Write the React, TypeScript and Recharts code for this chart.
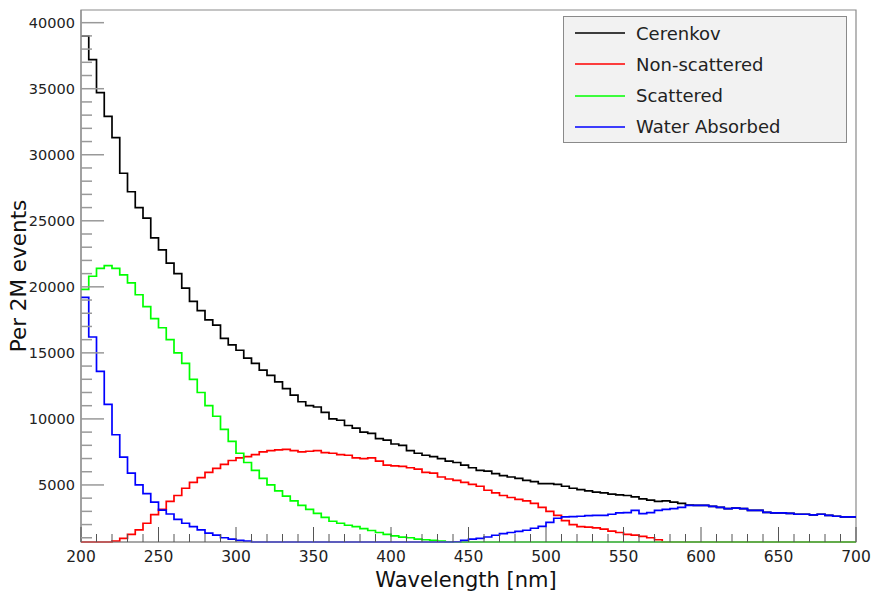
import React from 'react';
import { LineChart, Line, XAxis, YAxis, ReferenceArea, Legend, Label } from 'recharts';

// histogram bins: lower edge of the first bin and bin width [nm]
const BIN_START = 200;
const BIN_WIDTH = 5;

const CERENKOV = [
  39000, 37200, 34700, 32900, 31300, 28600, 27200, 26000, 25200, 23700,
  22800, 21800, 21000, 19900, 18900, 18200, 17500, 17100, 16100, 15600,
  15200, 14600, 14200, 13700, 13300, 12800, 12300, 11800, 11300, 11000,
  10900, 10500, 10000, 9900, 9500, 9300, 9000, 8900, 8500, 8400,
  8100, 8000, 7600, 7400, 7250, 7150, 7000, 6800, 6700, 6500,
  6300, 6100, 6050, 5850, 5700, 5600, 5500, 5350, 5250, 5100,
  5100, 5050, 4900, 4750, 4650, 4550, 4450, 4400, 4300, 4250,
  4200, 4100, 3950, 3850, 3750, 3800, 3700, 3600, 3480, 3450,
  3460, 3380, 3300, 3210, 3250, 3200, 3080, 3080, 2930, 2880,
  2880, 2850, 2780, 2780, 2740, 2780, 2700, 2630, 2580, 2580,
];

const NON_SCATTERED = [
  0, 0, 0, 0, 750, 950, 1250, 1600, 2100, 2750,
  3150, 3750, 4200, 4750, 5200, 5550, 5950, 6250, 6550, 6850,
  7050, 7150, 7300, 7500, 7600, 7650, 7700, 7600, 7500, 7550,
  7600, 7450, 7400, 7300, 7250, 7050, 7000, 7050, 6800, 6500,
  6450, 6400, 6300, 6200, 5950, 5900, 5600, 5450, 5350, 5200,
  5050, 4900, 4600, 4400, 4200, 4050, 3900, 3800, 3600, 3300,
  3000, 2700, 2300, 2000, 1850, 1800, 1750, 1650, 1500, 1400,
  1250, 1200, 1100, 1000, 850, 0, 0, 0, 0, 0,
  0, 0, 0, 0, 0, 0, 0, 0, 0, 0,
  0, 0, 0, 0, 0, 0, 0, 0, 0, 0,
];

const SCATTERED = [
  19800, 20800, 21400, 21600, 21400, 20900, 20300, 19400, 18500, 17600,
  16900, 16000, 15000, 14200, 13000, 12000, 11000, 10200, 9200, 8300,
  7400, 6700, 6100, 5500, 5000, 4550, 4150, 3800, 3450, 3150,
  2850, 2550, 2250, 2100, 1950, 1850, 1700, 1550, 1400, 1250,
  1150, 1050, 1000, 900, 850, 800, 750, 700, 0, 0,
  0, 0, 0, 0, 0, 0, 0, 0, 0, 0,
  0, 0, 0, 0, 0, 0, 0, 0, 0, 0,
  0, 0, 0, 0, 0, 0, 0, 0, 0, 0,
  0, 0, 0, 0, 0, 0, 0, 0, 0, 0,
  0, 0, 0, 0, 0, 0, 0, 0, 0, 0,
];

const WATER_ABSORBED = [
  19200, 16200, 13600, 11100, 8800, 7100, 5900, 5000, 4350, 3700,
  3100, 2800, 2400, 2100, 1850, 1600, 1350, 1200, 1000, 900,
  800, 750, 0, 0, 0, 0, 0, 0, 0, 0,
  0, 0, 0, 0, 0, 0, 0, 0, 0, 0,
  0, 0, 0, 0, 0, 0, 0, 0, 700, 800,
  900, 950, 1060, 1190, 1320, 1400, 1490, 1570, 1720, 1870,
  2170, 2480, 2580, 2600, 2630, 2670, 2700, 2700, 2780, 2880,
  2900, 3080, 2830, 2900, 3080, 3150, 3210, 3300, 3460, 3460,
  3460, 3380, 3300, 3210, 3250, 3200, 3080, 3080, 2930, 2880,
  2880, 2850, 2780, 2780, 2740, 2780, 2700, 2630, 2580, 2580,
];

const X_MAJOR = [200, 250, 300, 350, 400, 450, 500, 550, 600, 650, 700];
const Y_MAJOR = [5000, 10000, 15000, 20000, 25000, 30000, 35000, 40000];
const X_MINOR_STEP = 10;
const Y_MINOR_STEP = 1000;

const X_MIN = 200;
const X_MAX = 700;
const Y_MIN = 680;
const Y_MAX = 40960;

const FONT = "'DejaVu Sans', sans-serif";

const SERIES = [
  { key: 'cerenkov', name: 'Cerenkov', color: '#000000', values: CERENKOV },
  { key: 'nonScattered', name: 'Non-scattered', color: '#ff0000', values: NON_SCATTERED },
  { key: 'scattered', name: 'Scattered', color: '#00ff00', values: SCATTERED },
  { key: 'waterAbsorbed', name: 'Water Absorbed', color: '#0000ff', values: WATER_ABSORBED },
];

// ROOT draws empty / underflow bins on the frame bottom
const clampY = (v: number) => Math.max(v, Y_MIN);

const data = CERENKOV.map((_, i) => {
  const row: Record<string, number> = { wl: BIN_START + i * BIN_WIDTH };
  SERIES.forEach(s => { row[s.key] = clampY(s.values[i]); });
  return row;
});
// closing edge of the last bin
const lastRow: Record<string, number> = { wl: BIN_START + CERENKOV.length * BIN_WIDTH };
SERIES.forEach(s => { lastRow[s.key] = clampY(s.values[s.values.length - 1]); });
data.push(lastRow);

const xTicks: number[] = [];
for (let v = X_MIN; v <= X_MAX; v += X_MINOR_STEP) xTicks.push(v);
const yTicks: number[] = [];
for (let v = Y_MINOR_STEP; v <= Y_MAX; v += Y_MINOR_STEP) yTicks.push(v);

const XTick = (props: any) => {
  const { x, y, payload } = props;
  const major = X_MAJOR.includes(payload.value);
  return (
    <g>
      <line x1={x} x2={x} y1={y} y2={y - (major ? 15 : 8)} stroke="#555" strokeWidth={1} />
      {major && (
        <text x={x} y={y + 20} textAnchor="middle" fontSize={15.5} fontFamily={FONT} fill="#222">
          {payload.value}
        </text>
      )}
    </g>
  );
};

const YTick = (props: any) => {
  const { x, y, payload } = props;
  const major = Y_MAJOR.includes(payload.value);
  return (
    <g>
      <line x1={x} x2={x + (major ? 23 : 11)} y1={y} y2={y} stroke="#999" strokeWidth={1.5} />
      {major && (
        <text x={x - 6} y={y} dy="0.36em" textAnchor="end" fontSize={14.5} fontFamily={FONT} fill="#222">
          {payload.value}
        </text>
      )}
    </g>
  );
};

const LegendBox = () => (
  <div
    style={{
      width: 284,
      height: 127,
      boxSizing: 'border-box',
      background: '#f2f2f2',
      border: '1.5px solid #8a8a8a',
      position: 'relative',
      fontFamily: FONT,
      fontSize: 18,
      color: '#222',
    }}
  >
    {SERIES.map((s, i) => (
      <div
        key={s.key}
        style={{ position: 'absolute', left: 0, top: 1 + i * 31.3, height: 30, display: 'flex', alignItems: 'center' }}
      >
        <svg width={62} height={30}>
          <line x1={11} x2={61} y1={15} y2={15} stroke={s.color} strokeWidth={1.5} />
        </svg>
        <span style={{ marginLeft: 10, whiteSpace: 'nowrap' }}>{s.name}</span>
      </div>
    ))}
  </div>
);

const App: React.FC = () => {
  return (
    <div style={{ position: 'absolute', left: 0, top: 0, width: 873, height: 595, background: '#fff' }}>
      <LineChart width={873} height={595} data={data} margin={{ top: 10, right: 17, bottom: 0, left: 0 }}>
        <ReferenceArea x1={X_MIN} x2={X_MAX} y1={Y_MIN} y2={Y_MAX} fill="none" stroke="#8a8a8a" strokeWidth={1.2} />
        <XAxis
          dataKey="wl"
          type="number"
          domain={[X_MIN, X_MAX]}
          ticks={xTicks}
          interval={0}
          height={53}
          tickSize={0}
          tickMargin={0}
          tickLine={false}
          axisLine={{ stroke: '#8a8a8a' }}
          tick={<XTick />}
        >
          <Label
            content={() => (
              <text x={466} y={587} textAnchor="middle" fontSize={21} fontFamily={FONT} fill="#111">
                Wavelength [nm]
              </text>
            )}
          />
        </XAxis>
        <YAxis
          type="number"
          domain={[Y_MIN, Y_MAX]}
          ticks={yTicks}
          interval={0}
          width={81}
          tickSize={0}
          tickMargin={0}
          tickLine={false}
          axisLine={{ stroke: '#8a8a8a' }}
          tick={<YTick />}
        >
          <Label
            content={() => (
              <text
                x={26}
                y={276}
                transform="rotate(-90 26 276)"
                textAnchor="middle"
                fontSize={21.5}
                fontFamily={FONT}
                fill="#111"
              >
                Per 2M events
              </text>
            )}
          />
        </YAxis>
        <Legend
          layout="vertical"
          align="center"
          verticalAlign="middle"
          wrapperStyle={{ left: 563, top: 16, width: 284, height: 127 }}
          content={<LegendBox />}
        />
        {SERIES.map(s => (
          <Line
            key={s.key}
            dataKey={s.key}
            name={s.name}
            type="stepAfter"
            stroke={s.color}
            strokeWidth={1.7}
            dot={false}
            activeDot={false}
            isAnimationActive={false}
          />
        ))}
      </LineChart>
    </div>
  );
};

export default App;
